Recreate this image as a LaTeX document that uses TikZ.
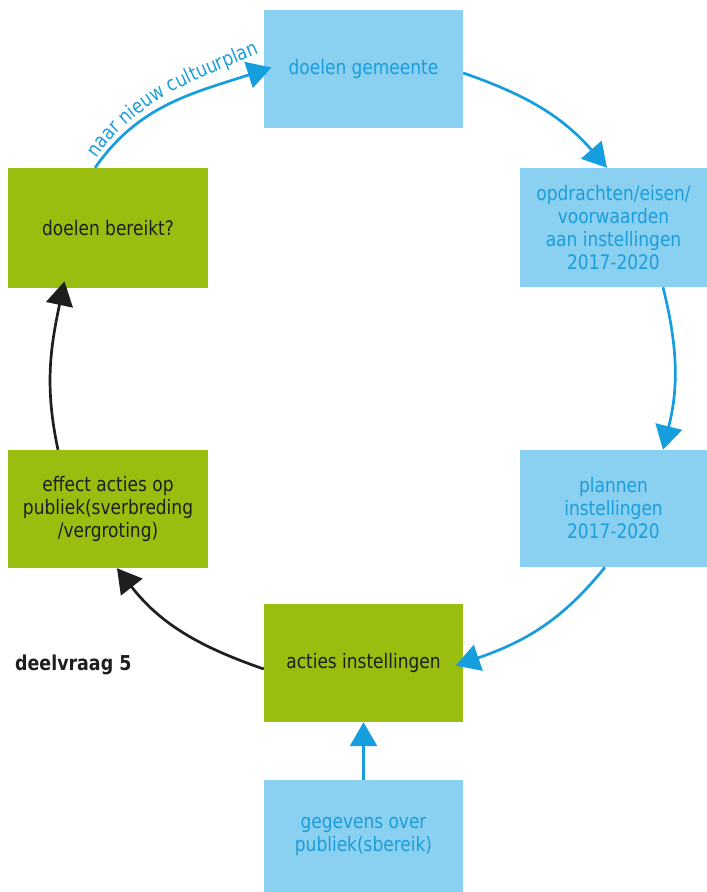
\documentclass[tikz,border=0pt]{standalone}
\usepackage{fontspec}
\setmainfont{DejaVu Sans}[FakeStretch=0.85]
\usetikzlibrary{arrows.meta,decorations.text}

\definecolor{lightbox}{RGB}{138,208,240}
\definecolor{greenbox}{RGB}{153,190,16}
\definecolor{bluetxt}{RGB}{27,157,220}
\definecolor{bluearrow}{RGB}{22,158,222}
\definecolor{darktxt}{RGB}{30,30,30}

\tikzset{
  box/.style={rectangle, inner sep=0pt, minimum width=199pt, align=center,
    font=\fontsize{20}{23}\selectfont},
  infobox/.style={box, fill=lightbox, text=bluetxt},
  actbox/.style={box, fill=greenbox, text=darktxt},
  flow/.style={line width=2.7pt, draw=bluearrow,
    -{Triangle[length=24pt,width=27pt]}},
  flowback/.style={flow, draw=darktxt},
}

\begin{document}
\begin{tikzpicture}[x=1pt,y=1pt]
\useasboundingbox (0,0) rectangle (707,-892);

% process steps
\node[infobox, minimum height=118pt] (gemeente) at (363.5,-69) {doelen gemeente};
\node[infobox, minimum width=187pt, minimum height=119pt] (opdracht) at (613.5,-227.5)
  {opdrachten/eisen/\\voorwaarden\\aan instellingen\\2017-2020};
\node[infobox, minimum width=187pt, minimum height=117pt] (plannen) at (613.5,-508.5)
  {plannen\\instellingen\\2017-2020};
\node[actbox, minimum height=118pt] (acties) at (363.5,-663) {acties instellingen};
\node[infobox, minimum height=112pt] (gegevens) at (363.5,-836)
  {gegevens over\\publiek(sbereik)};
\node[actbox, minimum width=200pt, minimum height=118pt] (effect) at (108,-509)
  {effect acties op\\publiek(sverbreding\\/vergroting)};
\node[actbox, minimum width=200pt, minimum height=120pt] (bereikt) at (108,-228)
  {doelen bereikt?};

\node[anchor=west, inner sep=0pt, text=darktxt,
  font=\fontsize{20.5}{23}\selectfont\bfseries] (vraag) at (15,-665) {deelvraag 5};

% label that follows the return connector
\path[decorate, decoration={text along path, text align=center,
    text={|\fontsize{20}{23}\selectfont\color{bluetxt}|naar nieuw cultuurplan}}]
  (90,-168) to[out=57,in=203] (270,-49);

% cycle connectors
\draw[flow, shorten >=-8pt]
  ([xshift=-13pt]bereikt.north) to[out=55,in=198] ([yshift=-1pt]gemeente.west);
\draw[flow] ([yshift=-4pt]gemeente.east) to[out=-19,in=131] ([xshift=-6.5pt]opdracht.north);
\draw[flow] ([xshift=49.5pt]opdracht.south) to[out=-76,in=76] ([xshift=49.5pt]plannen.north);
\draw[flow, shorten >=-8pt] ([xshift=-8.5pt]plannen.south) to[out=-129,in=19] (acties.east);
\draw[flowback] ([yshift=-6pt]acties.west) to[out=161,in=-52] ([xshift=9pt]effect.south);
\draw[flowback, shorten >=-7pt] ([xshift=-50pt]effect.north) to[out=102,in=-102] ([xshift=-45pt]bereikt.south);
\draw[flow] (gegevens.north) -- (acties.south);
\end{tikzpicture}
\end{document}
